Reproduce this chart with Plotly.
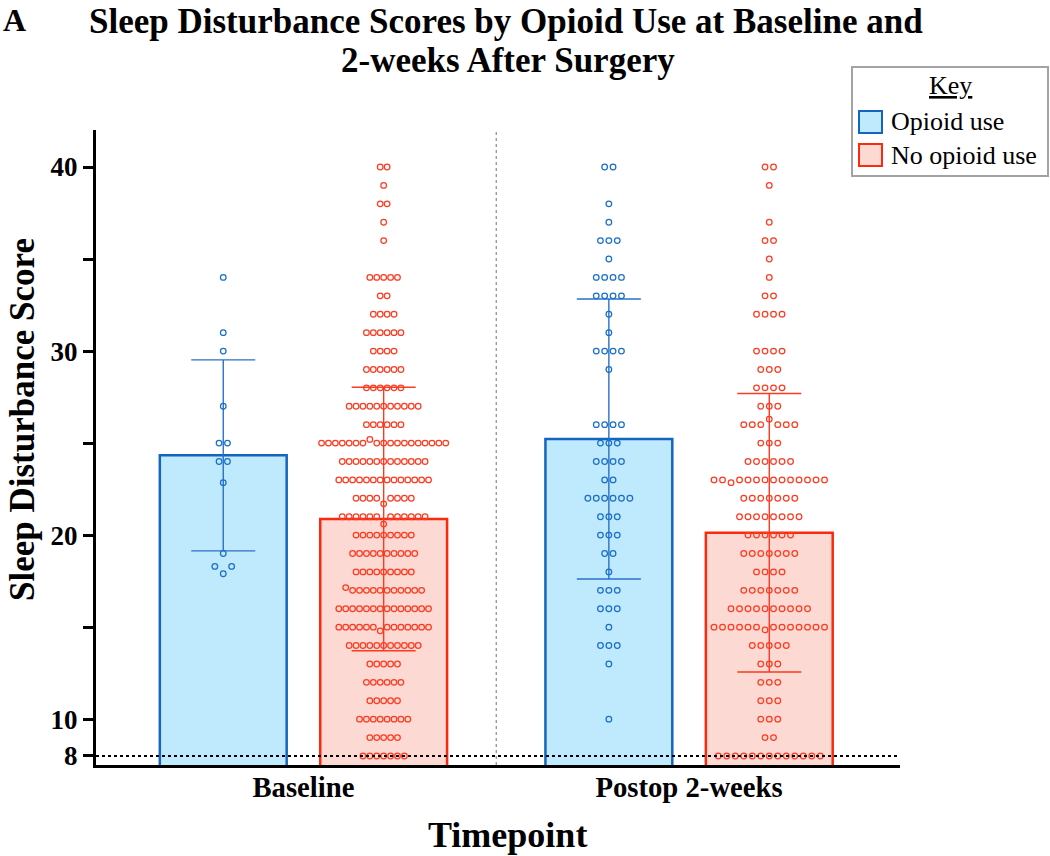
import numpy as np
import plotly.graph_objects as go

# ---------------- data ----------------
timepoints = ["Baseline", "Postop 2-weeks"]
series_names = ["Opioid use", "No opioid use"]

baseline_opioid = [34, 31, 30, 27, 25, 25, 24, 24, 22.85, 19, 18.3, 17.9, 18.3]

baseline_no_opioid = (
    [40] * 2 + [39] + [38] * 2 + [37] + [36] + [34] * 5 + [33] * 2 + [32] * 4
    + [31] * 6 + [30] * 4 + [29] * 6 + [28] * 6 + [27] * 11 + [26] * 6
    + [25] * 7 + [25.2] + [25] * 11 + [24] * 13 + [23] * 14
    + [22] * 4 + [21.7] + [22] * 4 + [21] * 6 + [20.6] + [21] * 6
    + [20] * 9 + [19] * 10 + [18] * 9 + [17.15] + [17] * 11 + [16] * 14
    + [15] * 6 + [14.8] + [15] * 7 + [14] * 11 + [13] * 5 + [12] * 6
    + [11] * 5 + [10] * 8 + [9] * 5 + [8] * 7
)

postop_opioid = (
    [40] * 2 + [38] + [37] + [36] * 3 + [35] + [34] * 4 + [33] * 4 + [32] + [31]
    + [30] * 4 + [29] + [26] * 4 + [25] * 3 + [24] * 4 + [23] * 2 + [22] * 6
    + [21] * 3 + [20] * 3 + [19] * 2 + [18] + [17] * 3 + [16] * 3 + [15]
    + [14] * 3 + [13] + [10]
)

postop_no_opioid = (
    [40] * 2 + [39] + [37] + [36] * 2 + [35] + [34] + [33] * 2 + [32] * 4
    + [30] * 4 + [29] * 3 + [28] * 4 + [27] * 3 + [26] * 3 + [26.3] + [26] * 3
    + [25] * 3 + [24] * 6 + [23] * 2 + [22.85] + [23] * 11 + [22] * 7 + [21] * 8
    + [20] * 6 + [19] * 7 + [18] * 4 + [17] * 7 + [16] * 10
    + [15] * 6 + [14.85] + [15] * 7 + [14] * 5 + [13] * 3 + [12] * 3
    + [11] * 3 + [10] * 3 + [9] * 2 + [8] * 13
)

y_tick_vals = [8, 10, 15, 20, 25, 30, 35, 40]
y_tick_text = ["8", "10", "", "20", "", "30", "", "40"]

title_lines = ["Sleep Disturbance Scores by Opioid Use at Baseline and",
               "2-weeks After Surgery"]

# ---------------- layout constants ----------------
W, H = 1050, 856
L, R, T, B = 96, 150, 130, 91
PW, PH = W - L - R, H - T - B
X_RANGE = [-0.538, 1.547]
Y_RANGE = [7.51, 42.01]
PX_PER_X = PW / (X_RANGE[1] - X_RANGE[0])

FONT = "Liberation Serif, Times New Roman, Times, serif"

styles = [
    dict(fill="#bfe9fc", edge="#1565c0", dot="#1a6fc8", err="#2a72c8", spacing_px=8.4),
    dict(fill="#fdd9d3", edge="#fb2a0e", dot="#ff3a20", err="#fb3a20", spacing_px=8.5),
]
group_offset = [-0.208, 0.208]
bar_width = 0.329
data = {
    (0, 0): baseline_opioid,
    (0, 1): baseline_no_opioid,
    (1, 0): postop_opioid,
    (1, 1): postop_no_opioid,
}
spacing_override = {(0, 1): 6.9}


def px2x(px):
    return (px - L) / PW


def py2y(py):
    return (H - B - py) / PH


def top_for_baseline(baseline_px, size):
    # annotation top edge so that the text baseline lands on baseline_px
    return py2y(baseline_px - 0.891 * size - 1)


def swarm_offsets(values, spacing):
    rows = {}
    for i, v in enumerate(values):
        rows.setdefault(int(round(v)), []).append(i)
    off = np.zeros(len(values))
    for idxs in rows.values():
        n = len(idxs)
        for k, i in enumerate(idxs):
            off[i] = (k - (n - 1) / 2) * spacing
    return off


fig = go.Figure()

# bars with SD error bars
for s, name in enumerate(series_names):
    st = styles[s]
    xs, means, sds = [], [], []
    for t in range(len(timepoints)):
        vals = np.array(data[(t, s)], dtype=float)
        xs.append(t + group_offset[s])
        means.append(vals.mean())
        sds.append(vals.std(ddof=1))
    fig.add_trace(go.Bar(
        x=xs, y=means, width=bar_width, name=name, showlegend=False,
        marker=dict(color=st["fill"], line=dict(color=st["edge"], width=2.5)),
        error_y=dict(type="data", array=sds, visible=True, color=st["err"],
                     thickness=1.4, width=32),
    ))

# individual points
for s, name in enumerate(series_names):
    st = styles[s]
    for t in range(len(timepoints)):
        vals = np.array(data[(t, s)], dtype=float)
        sp = spacing_override.get((t, s), st["spacing_px"]) / PX_PER_X
        xs = t + group_offset[s] + swarm_offsets(vals, sp)
        fig.add_trace(go.Scatter(
            x=xs, y=vals, mode="markers", showlegend=False, name=name,
            marker=dict(symbol="circle-open", size=5.6, color=st["dot"],
                        line=dict(width=1.25)),
            hoverinfo="y",
        ))

shapes = [
    # dotted reference line at 8
    dict(type="line", xref="paper", yref="y", x0=0, x1=1, y0=8, y1=8,
         line=dict(color="black", width=2, dash="dot"), layer="above"),
    # separator between timepoints
    dict(type="line", xref="x", yref="paper", x0=0.5, x1=0.5, y0=0, y1=1,
         line=dict(color="#8a8a8a", width=1.2, dash="dot"), layer="below"),
    # legend box
    dict(type="rect", xref="paper", yref="paper",
         x0=px2x(852), x1=px2x(1048), y0=py2y(176), y1=py2y(67),
         line=dict(color="#a3a3a3", width=2), fillcolor="white", layer="above"),
    dict(type="rect", xref="paper", yref="paper",
         x0=px2x(859), x1=px2x(882), y0=py2y(133), y1=py2y(111),
         line=dict(color=styles[0]["edge"], width=2), fillcolor=styles[0]["fill"], layer="above"),
    dict(type="rect", xref="paper", yref="paper",
         x0=px2x(859), x1=px2x(882), y0=py2y(166), y1=py2y(144),
         line=dict(color=styles[1]["edge"], width=2), fillcolor=styles[1]["fill"], layer="above"),
]

annotations = [
    dict(text="<b>A</b>", xref="paper", yref="paper", x=px2x(1), y=top_for_baseline(30, 32),
         xanchor="left", yanchor="top", showarrow=False,
         font=dict(family=FONT, size=32, color="black")),
    dict(text="<b>" + title_lines[0] + "</b>", xref="paper", yref="paper",
         x=px2x(506), y=top_for_baseline(32.5, 35), xanchor="center", yanchor="top",
         showarrow=False, font=dict(family=FONT, size=35, color="black")),
    dict(text="<b>" + title_lines[1] + "</b>", xref="paper", yref="paper",
         x=px2x(508), y=top_for_baseline(71, 35), xanchor="center", yanchor="top",
         showarrow=False, font=dict(family=FONT, size=35, color="black")),
    dict(text="<b>Sleep Disturbance Score</b>", textangle=-90, xref="paper", yref="paper",
         x=px2x(22), y=py2y(420), xanchor="center", yanchor="middle", showarrow=False,
         font=dict(family=FONT, size=35, color="black")),
    dict(text="<b>Timepoint</b>", xref="paper", yref="paper",
         x=px2x(507), y=top_for_baseline(846, 36), xanchor="center", yanchor="top",
         showarrow=False, font=dict(family=FONT, size=36, color="black")),
    dict(text="<u>Key</u>", xref="paper", yref="paper",
         x=px2x(950), y=py2y(86), xanchor="center", yanchor="middle", showarrow=False,
         font=dict(family=FONT, size=26, color="black")),
    dict(text=series_names[0], xref="paper", yref="paper",
         x=px2x(889), y=py2y(122), xanchor="left", yanchor="middle", showarrow=False,
         font=dict(family=FONT, size=26, color="black")),
    dict(text=series_names[1], xref="paper", yref="paper",
         x=px2x(889), y=py2y(155), xanchor="left", yanchor="middle", showarrow=False,
         font=dict(family=FONT, size=26, color="black")),
]

fig.update_layout(
    width=W, height=H,
    margin=dict(l=L, r=R, t=T, b=B, autoexpand=False),
    paper_bgcolor="white", plot_bgcolor="white",
    barmode="overlay",
    shapes=shapes,
    annotations=annotations,
    xaxis=dict(
        range=X_RANGE, showline=True, linecolor="black", linewidth=3,
        ticks="", tickvals=list(range(len(timepoints))), ticktext=timepoints,
        tickfont=dict(family=FONT, size=28.7, color="black", weight="bold"),
        ticklabelstandoff=-5,
        showgrid=False, zeroline=False, automargin=False, fixedrange=True,
    ),
    yaxis=dict(
        range=Y_RANGE, showline=True, linecolor="black", linewidth=3,
        ticks="outside", ticklen=10, tickwidth=2.5, tickcolor="black",
        tickvals=y_tick_vals, ticktext=y_tick_text,
        tickfont=dict(family=FONT, size=27, color="black", weight="bold"),
        showgrid=False, zeroline=False, automargin=False, fixedrange=True,
    ),
    font=dict(family=FONT),
)

fig.write_html("out.html",
               config={"displayModeBar": False},
               post_script="document.body.style.margin='0';document.body.style.overflow='hidden';")
